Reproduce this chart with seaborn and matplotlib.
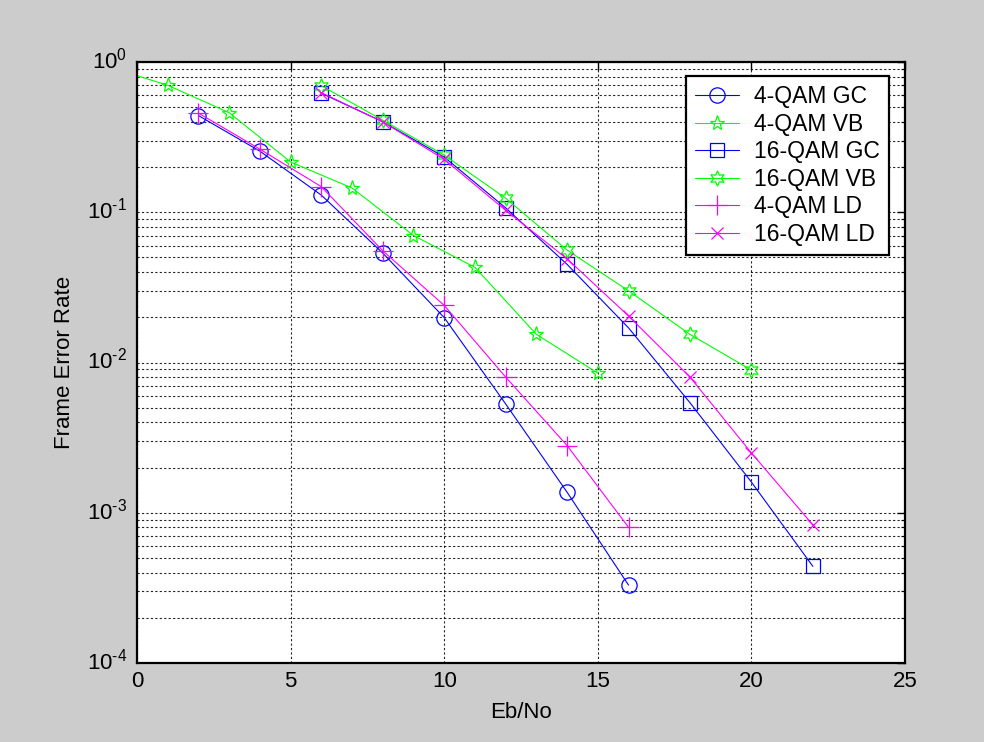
import numpy as np
import pandas as pd
import seaborn as sns
import matplotlib
matplotlib.use("Agg")
import matplotlib.pyplot as plt
import matplotlib.transforms as mtransforms
from matplotlib.ticker import LogLocator, NullFormatter, FixedLocator, FixedFormatter

# ---------------- data ----------------
x_4qam = [2, 4, 6, 8, 10, 12, 14, 16]
x_4qam_vb = [-1, 1, 3, 5, 7, 9, 11, 13, 15]
x_16qam = [6, 8, 10, 12, 14, 16, 18, 20, 22]
x_16qam_vb = [6, 8, 10, 12, 14, 16, 18, 20]

fer_4qam_gc = [0.44, 0.255, 0.130, 0.0535, 0.0199, 0.0053, 0.00137, 0.00033]
fer_4qam_vb = [0.94, 0.70, 0.46, 0.216, 0.145, 0.070, 0.043, 0.0154, 0.0085]
fer_16qam_gc = [0.62, 0.40, 0.233, 0.107, 0.045, 0.017, 0.0054, 0.0016, 0.00044]
fer_16qam_vb = [0.695, 0.41, 0.24, 0.124, 0.056, 0.030, 0.0154, 0.0089]
fer_4qam_ld = [0.457, 0.263, 0.148, 0.0554, 0.024, 0.0080, 0.0028, 0.00080]
fer_16qam_ld = [0.625, 0.40, 0.225, 0.103, 0.049, 0.0204, 0.0080, 0.0025, 0.00083]

labels = ["4-QAM GC", "4-QAM VB", "16-QAM GC", "16-QAM VB", "4-QAM LD", "16-QAM LD"]
xs = [x_4qam, x_4qam_vb, x_16qam, x_16qam_vb, x_4qam, x_16qam]
ys = [fer_4qam_gc, fer_4qam_vb, fer_16qam_gc, fer_16qam_vb, fer_4qam_ld, fer_16qam_ld]

x_ticks = [0, 5, 10, 15, 20, 25]
y_exponents = [-4, -3, -2, -1, 0]

# ---------------- styling ----------------
sns.set_theme(style="white")
plt.rcParams["font.family"] = ["Liberation Sans", "DejaVu Sans"]
plt.rcParams["mathtext.fontset"] = "custom"
plt.rcParams["mathtext.rm"] = "Liberation Sans"
plt.rcParams["mathtext.it"] = "Liberation Sans:italic"
plt.rcParams["mathtext.bf"] = "Liberation Sans:bold"
plt.rcParams["mathtext.default"] = "regular"
plt.rcParams["axes.unicode_minus"] = False

FS = 16
LFS = 16.5

colors = ["#0000ff", "#00ff00", "#0000ff", "#00ff00", "#ff00ff", "#ff00ff"]
markers = ["o", "*", "s", (6, 1, 0), "+", "x"]
msizes = [11, 11, 10, 11, 14, 8]

fig = plt.figure(figsize=(9.84, 7.42), dpi=100, facecolor="#cccccc")
ax = fig.add_axes([137 / 984, 1 - 663 / 742, 768 / 984, 601 / 742])
ax.set_facecolor("white")

for lab, xv, yv, c, m, ms in zip(labels, xs, ys, colors, markers, msizes):
    df = pd.DataFrame({"Eb/No": xv, "FER": yv})
    sns.lineplot(data=df, x="Eb/No", y="FER", ax=ax, color=c, marker=m,
                 markersize=ms, markerfacecolor="none", markeredgecolor=c,
                 markeredgewidth=0.9, linewidth=0.8, label=lab,
                 estimator=None, sort=False)

ax.set_yscale("log")
ax.set_xlim(0, 25)
ax.set_ylim(1e-4, 1)
ax.set_xticks(x_ticks)
ax.set_xticklabels([str(t) for t in x_ticks])
ax.yaxis.set_major_locator(FixedLocator([10.0 ** e for e in y_exponents]))
ax.yaxis.set_major_formatter(FixedFormatter(
    ["$10^{%s}$" % (str(e).replace("-", "\u2010")) for e in y_exponents]))
ax.yaxis.set_minor_locator(LogLocator(base=10, subs=np.arange(2, 10), numticks=20))
ax.yaxis.set_minor_formatter(NullFormatter())

grid_kw = dict(color="black", linestyle=(0, (2, 2)), linewidth=0.8, alpha=0.85)
ax.grid(True, which="major", axis="both", **grid_kw)
ax.grid(True, which="minor", axis="y", **grid_kw)

ax.tick_params(which="both", direction="in", top=True, right=True,
               colors="black", labelsize=FS)
ax.tick_params(which="major", length=6, width=1)
ax.tick_params(which="minor", length=3, width=0.8)
ax.tick_params(axis="x", pad=6)
ax.tick_params(axis="y", pad=7)
for s in ax.spines.values():
    s.set_visible(True)
    s.set_color("black")
    s.set_linewidth(1.6)

ax.set_xlabel("Eb/No", fontsize=FS, color="black", labelpad=7)
ax.set_ylabel("Frame Error Rate", fontsize=FS, color="black", labelpad=9)

leg = ax.legend(loc="upper right", bbox_to_anchor=(0.979, 0.977),
                bbox_transform=ax.transAxes, borderaxespad=0,
                fontsize=LFS, fancybox=False, framealpha=1, edgecolor="black",
                handlelength=1.9, handletextpad=0.65, labelspacing=0.2,
                borderpad=0.4, numpoints=1)
leg.get_frame().set_linewidth(1.6)
for t in leg.get_texts():
    t.set_color("black")

# nudge y tick labels up a little so the "10" sits on the tick
fig.canvas.draw()
offset = mtransforms.ScaledTranslation(0, 3 / 72, fig.dpi_scale_trans)
for lbl in ax.get_yticklabels():
    lbl.set_transform(lbl.get_transform() + offset)

fig.savefig("out.png", dpi=100, facecolor=fig.get_facecolor())
